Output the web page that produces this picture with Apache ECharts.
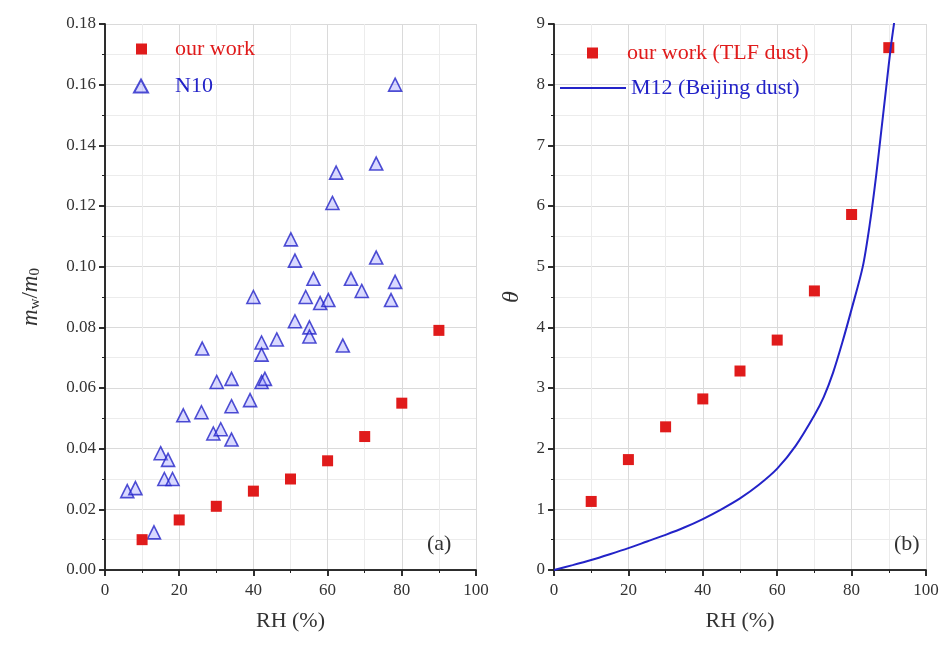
<!DOCTYPE html>
<html>
<head>
    <meta charset="UTF-8">
    <title>RH chart</title>
    <script src="https://cdn.jsdelivr.net/npm/echarts@6/dist/echarts.min.js"></script>
    <style>
        html, body { margin: 0; padding: 0; background: #fff; }
        #chart { width: 945px; height: 654px; }
    </style>
</head>
<body>
	<div id="chart"></div>
	<script type="text/javascript">
		// panel (a): water uptake
		var ourRH = [10, 20, 30, 40, 50, 60, 70, 80, 90];
		var ourMw = [0.010, 0.0165, 0.021, 0.026, 0.030, 0.036, 0.044, 0.055, 0.079];
		var n10RH = [6, 8.2, 13.2, 15, 17, 16, 18.2, 21.1, 26, 26.2, 29.2, 31.2, 30.1, 34.1, 34.1, 34.1, 39.1, 40,
			42.2, 42.2, 42.2, 43.1, 46.3, 50.1, 51.2, 51.2, 54.1, 55.1, 55.1, 56.2, 58, 60.2, 61.3, 62.3, 64.1,
			66.3, 69.2, 73.1, 73.1, 77.1, 78.2, 78.2];
		var n10Mw = [0.026, 0.027, 0.0124, 0.0385, 0.0363, 0.030, 0.030, 0.051, 0.052, 0.073, 0.045, 0.0464, 0.062, 0.063, 0.054, 0.043, 0.056, 0.090,
			0.075, 0.071, 0.062, 0.063, 0.076, 0.109, 0.102, 0.082, 0.090, 0.080, 0.077, 0.096, 0.088, 0.089, 0.121, 0.131, 0.074,
			0.096, 0.092, 0.134, 0.103, 0.089, 0.095, 0.160];
		// panel (b): theta
		var ourTheta = [1.13, 1.82, 2.36, 2.82, 3.28, 3.79, 4.60, 5.86, 8.61];
		var m12RH = [0, 5, 10, 15, 20, 25, 30, 35, 40, 45, 50, 55, 60, 65, 70, 72.5, 75, 77.5, 80, 83, 85, 86.6, 88, 89.3, 90.5, 91.5, 92];
		var m12Theta = [0, 0.08, 0.165, 0.26, 0.36, 0.47, 0.58, 0.70, 0.84, 1.0, 1.18, 1.40, 1.67, 2.05, 2.55, 2.85, 3.25, 3.75, 4.3, 5.0, 5.75, 6.5, 7.25, 7.95, 8.6, 9.05, 9.3];

		function pairs(xs, ys) {
			var out = [];
			for (var i = 0; i < xs.length; i++) {
				out.push([xs[i], ys[i]]);
			}
			return out;
		}

		var serif = '"Liberation Serif", "DejaVu Serif", serif';
		var red = '#e01b1b';
		var blue = '#2323c8';

		function xAxisMain(idx) {
			return {
				type: 'value', gridIndex: idx, min: 0, max: 100, interval: 20,
				name: 'RH (%)', nameLocation: 'middle', nameGap: 40,
				nameTextStyle: { fontFamily: serif, fontSize: 22, color: '#333' },
				axisLine: { lineStyle: { color: '#222', width: 1.5 } },
				axisTick: { inside: false, length: 6, lineStyle: { color: '#222', width: 1.5 } },
				minorTick: { show: true, splitNumber: 2, length: 3, lineStyle: { color: '#222' } },
				axisLabel: { fontFamily: serif, fontSize: 17, color: '#333', margin: 12 },
				splitLine: { show: true, lineStyle: { color: '#dadada' } },
				minorSplitLine: { show: true, lineStyle: { color: '#ececec' } }
			};
		}
		function xAxisTop(idx) {
			return {
				type: 'value', gridIndex: idx, position: 'top', min: 0, max: 100, interval: 20,
				axisLine: { lineStyle: { color: '#222', width: 1.5 } },
				axisTick: { inside: true, length: 6, lineStyle: { color: '#222', width: 1.5 } },
				minorTick: { show: true, splitNumber: 2, length: 3, lineStyle: { color: '#222' } },
				axisLabel: { show: false },
				splitLine: { show: false }
			};
		}
		function yAxisRight(idx, max, interval) {
			return {
				type: 'value', gridIndex: idx, position: 'right', min: 0, max: max, interval: interval,
				axisLine: { show: true, lineStyle: { color: '#222', width: 1.5 } },
				axisTick: { show: true, inside: true, length: 6, lineStyle: { color: '#222', width: 1.5 } },
				minorTick: { show: true, splitNumber: 2, length: 3, lineStyle: { color: '#222' } },
				axisLabel: { show: false },
				splitLine: { show: false }
			};
		}
		// one legend per entry so the icon and text can sit where the original has them
		function legendItem(name, color, left, top, w, h, pad) {
			return {
				left: left, top: top, itemWidth: w, itemHeight: h, itemGap: 0,
				data: [{ name: name, itemStyle: name.indexOf('M12') === 0 ? { opacity: 0 } : undefined }],
				formatter: '{t|{name}}',
				textStyle: {
					fontFamily: serif, fontSize: 22, color: color,
					rich: { t: { fontFamily: serif, fontSize: 22, color: color, padding: [0, 0, 0, pad] } }
				}
			};
		}

		var myChart = echarts.init(document.getElementById('chart'));
		var option = {
			animation: false,
			backgroundColor: '#fff',
			grid: [
				{ left: 105, right: 469, top: 24, height: 546 },
				{ left: 554, right: 19, top: 24, height: 546 }
			],
			title: [
				{ text: '(a)', left: 422, top: 528, textStyle: { fontFamily: serif, fontSize: 22, fontWeight: 'normal', color: '#333' } },
				{ text: '(b)', left: 889, top: 528, textStyle: { fontFamily: serif, fontSize: 22, fontWeight: 'normal', color: '#333' } }
			],
			legend: [
				legendItem('our work', red, 131, 33, 11, 11, 23),
				legendItem('N10', blue, 128, 70, 14, 13, 22),
				legendItem('our work (TLF dust)', red, 582, 37, 11, 11, 24),
				legendItem('M12 (Beijing dust)', blue, 554, 72, 66, 12, 0)
			],
			xAxis: [xAxisMain(0), xAxisMain(1), xAxisTop(0), xAxisTop(1)],
			yAxis: [
				{
					type: 'value', gridIndex: 0, min: 0, max: 0.18, interval: 0.02,
					name: '{i|m}{s|w}{n|/}{i|m}{s|0}', nameLocation: 'middle', nameGap: 62,
					nameTextStyle: {
						rich: {
							i: { fontFamily: serif, fontSize: 23, fontStyle: 'italic', color: '#333' },
							n: { fontFamily: serif, fontSize: 23, color: '#333' },
							s: { fontFamily: serif, fontSize: 15, color: '#333', padding: [10, 0, 0, 0] }
						}
					},
					axisLine: { show: true, lineStyle: { color: '#222', width: 1.5 } },
					axisTick: { show: true, length: 6, lineStyle: { color: '#222', width: 1.5 } },
					minorTick: { show: true, splitNumber: 2, length: 3, lineStyle: { color: '#222' } },
					axisLabel: { fontFamily: serif, fontSize: 17, color: '#333', margin: 9,
						formatter: function (v) { return v.toFixed(2); } },
					splitLine: { show: true, lineStyle: { color: '#dadada' } },
					minorSplitLine: { show: true, lineStyle: { color: '#ececec' } }
				},
				{
					type: 'value', gridIndex: 1, min: 0, max: 9, interval: 1,
					name: 'θ', nameLocation: 'middle', nameGap: 30,
					nameTextStyle: { fontFamily: serif, fontSize: 24, fontStyle: 'italic', color: '#333' },
					axisLine: { show: true, lineStyle: { color: '#222', width: 1.5 } },
					axisTick: { show: true, length: 6, lineStyle: { color: '#222', width: 1.5 } },
					minorTick: { show: true, splitNumber: 2, length: 3, lineStyle: { color: '#222' } },
					axisLabel: { fontFamily: serif, fontSize: 17, color: '#333', margin: 9 },
					splitLine: { show: true, lineStyle: { color: '#dadada' } },
					minorSplitLine: { show: true, lineStyle: { color: '#ececec' } }
				},
				yAxisRight(0, 0.18, 0.02),
				yAxisRight(1, 9, 1)
			],
			series: [
				{
					name: 'N10', type: 'scatter', xAxisIndex: 0, yAxisIndex: 0,
					symbol: 'triangle', symbolSize: 13,
					itemStyle: { color: 'rgba(150,150,255,0.45)', borderColor: blue, borderWidth: 1.6 },
					data: pairs(n10RH, n10Mw)
				},
				{
					name: 'our work', type: 'scatter', xAxisIndex: 0, yAxisIndex: 0,
					symbol: 'rect', symbolSize: 11,
					itemStyle: { color: red, opacity: 1 },
					data: pairs(ourRH, ourMw)
				},
				{
					name: 'M12 (Beijing dust)', type: 'line', xAxisIndex: 1, yAxisIndex: 1,
					smooth: 0.3, symbol: 'none', showSymbol: false, clip: true,
					lineStyle: { color: blue, width: 2 },
					itemStyle: { color: blue },
					data: pairs(m12RH, m12Theta)
				},
				{
					name: 'our work (TLF dust)', type: 'scatter', xAxisIndex: 1, yAxisIndex: 1,
					symbol: 'rect', symbolSize: 11,
					itemStyle: { color: red, opacity: 1 },
					data: pairs(ourRH, ourTheta)
				}
			]
		};
		myChart.setOption(option);
	</script>
</body>
</html>
